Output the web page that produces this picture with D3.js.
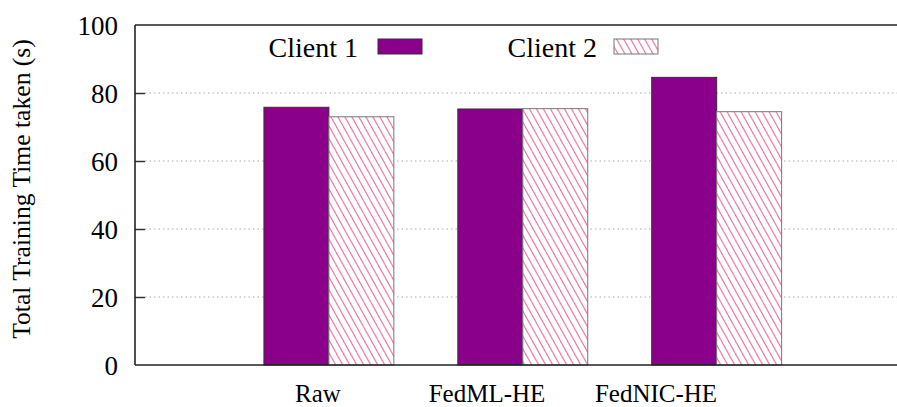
<!DOCTYPE html>
<html>
<head>
<meta charset="utf-8">
<script src="https://cdn.jsdelivr.net/npm/d3@7"></script>
<style>
html,body{margin:0;padding:0;background:#fff;}
svg{display:block;}
svg text{font-family:"Liberation Serif","Times New Roman",Times,"Nimbus Roman","DejaVu Serif",serif !important;fill:#000;}
</style>
</head>
<body>
<svg id="chart" width="897" height="407"></svg>
<script>
const categories = ["Raw", "FedML-HE", "FedNIC-HE"];
const seriesNames = ["Client 1", "Client 2"];
const client1 = [75.8, 75.3, 84.6];
const client2 = [73.0, 75.4, 74.5];
const yTicks = [0, 20, 40, 60, 80, 100];

const svg = d3.select("#chart");
const W = 897, H = 407;
const mLeft = 135, mTop = 25, mBottom = 365, mRight = 897;

const x = d3.scaleLinear().domain([-1, 2.93]).range([mLeft, mRight]);
const y = d3.scaleLinear().domain([0, 100]).range([mBottom, mTop]);
const labelX = d3.scaleLinear().domain([0, categories.length - 1]).range([318, 656]);
const barW = 0.335;

// hatch pattern
const defs = svg.append("defs");
const pat = defs.append("pattern").attr("id", "hatch")
  .attr("patternUnits", "userSpaceOnUse")
  .attr("width", 7).attr("height", 12.6);
pat.append("rect").attr("width", 7).attr("height", 12.6).attr("fill", "#fff");
[-7, 0, 7].forEach(o => {
  pat.append("line")
    .attr("x1", o).attr("y1", 0).attr("x2", o + 7).attr("y2", 12.6)
    .attr("stroke", "#e8739f").attr("stroke-width", 1.1);
});

// grid lines (dotted)
const grid = svg.append("g");
yTicks.filter(t => t > 0 && t < 100).forEach(t => {
  grid.append("line")
    .attr("x1", mLeft + 10).attr("x2", W)
    .attr("y1", y(t)).attr("y2", y(t))
    .attr("stroke", "#aaa").attr("stroke-width", 1)
    .attr("stroke-dasharray", "1.5,3");
});

// bars
const data = categories.map((c, i) => ({cat: c, i, v1: client1[i], v2: client2[i]}));
const bars = svg.append("g");
bars.selectAll("rect.c1").data(data).enter().append("rect")
  .attr("class", "c1")
  .attr("x", d => x(d.i - barW)).attr("width", d => x(d.i) - x(d.i - barW))
  .attr("y", d => y(d.v1)).attr("height", d => y(0) - y(d.v1))
  .attr("fill", "#8b008b").attr("stroke", "#3a2a3a").attr("stroke-width", 1);
bars.selectAll("rect.c2").data(data).enter().append("rect")
  .attr("class", "c2")
  .attr("x", d => x(d.i)).attr("width", d => x(d.i + barW) - x(d.i))
  .attr("y", d => y(d.v2)).attr("height", d => y(0) - y(d.v2))
  .attr("fill", "url(#hatch)").attr("stroke", "#777").attr("stroke-width", 1);

// axes frame
const axisG = svg.append("g").attr("transform", `translate(${mLeft},0)`);
const yAxis = d3.axisLeft(y).tickValues(yTicks).tickSize(-10).tickPadding(17).tickFormat(d3.format("d"));
axisG.call(yAxis);
axisG.attr("font-family", null);
axisG.select(".domain").remove();
axisG.selectAll(".tick line").attr("stroke", "#333").attr("stroke-width", 1.5);
axisG.selectAll(".tick text")
  .attr("font-size", 27).attr("dy", "0.35em")
  .attr("fill", "#000");
axisG.selectAll(".tick").filter(d => d === 0 || d === 100).select("line").remove();

svg.append("line").attr("x1", mLeft).attr("x2", mLeft).attr("y1", mTop).attr("y2", mBottom)
  .attr("stroke", "#222").attr("stroke-width", 1.6);
svg.append("line").attr("x1", mLeft).attr("x2", W).attr("y1", mTop).attr("y2", mTop)
  .attr("stroke", "#222").attr("stroke-width", 1.6);
svg.append("line").attr("x1", mLeft).attr("x2", W).attr("y1", mBottom).attr("y2", mBottom)
  .attr("stroke", "#222").attr("stroke-width", 1.6);

// x labels
svg.append("g").selectAll("text").data(categories).enter().append("text")
  .attr("x", (d, i) => labelX(i)).attr("y", 402)
  .attr("text-anchor", "middle").attr("font-size", 25)
  .text(d => d);

// y axis title
svg.append("text")
  .attr("transform", `translate(30,189) rotate(-90)`)
  .attr("text-anchor", "middle").attr("font-size", 25.6)
  .text("Total Training Time taken (s)");

// legend
const legend = [
  {name: seriesNames[0], tx: 358, bx: 378, fill: "#8b008b", stroke: "#3a2a3a"},
  {name: seriesNames[1], tx: 597, bx: 614, fill: "url(#hatch)", stroke: "#777"}
];
const lg = svg.append("g");
legend.forEach(l => {
  lg.append("text").attr("x", l.tx).attr("y", 57).attr("text-anchor", "end")
    .attr("font-size", 28).text(l.name);
  lg.append("rect").attr("x", l.bx).attr("y", 39).attr("width", 44).attr("height", 15)
    .attr("fill", l.fill).attr("stroke", l.stroke).attr("stroke-width", 1);
});
</script>
</body>
</html>
